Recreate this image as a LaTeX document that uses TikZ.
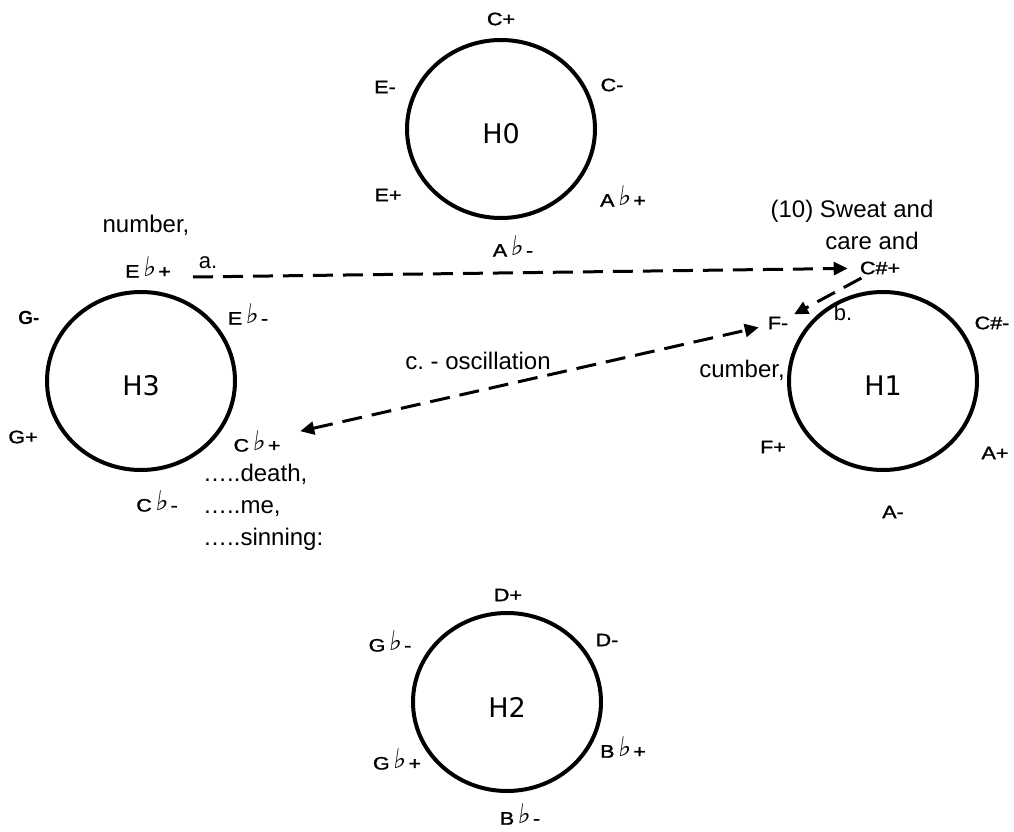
\documentclass[tikz,border=0pt]{standalone}
\usepackage{fontspec}
\setmainfont{Liberation Sans}
\newfontfamily\notefont{DejaVu Sans}
\newfontfamily\keyfont[FakeBold=1.4,FakeStretch=1.2]{Liberation Sans}
\newfontfamily\flatfont[FakeSlant=0.15]{DejaVu Sans}
\usetikzlibrary{arrows.meta,shapes.geometric}
% flat sign, enlarged and leaning, with air on both sides
\newcommand\fl{\hspace{3pt}\raisebox{1.5pt}{\flatfont\fontsize{27}{27}\selectfont ♭}\hspace{3pt}}
\frenchspacing
\begin{document}
\begin{tikzpicture}[x=1pt,y=-1pt,
  >={Triangle[length=14pt,width=13pt]},
  hub/.style={ellipse, draw=black, line width=4pt, minimum width=188pt,
    minimum height=178pt, inner sep=0pt},
  hubname/.style={font=\notefont\fontsize{27}{32}\selectfont, yshift=-5pt},
  key/.style={font=\keyfont\fontsize{18}{22}\selectfont, inner sep=3pt},
  boldkey/.style={font=\bfseries\fontsize{19}{22}\selectfont, inner sep=3pt},
  words/.style={font=\fontsize{24}{32}\selectfont, inner sep=2pt},
  link/.style={draw=black, line width=3pt, dash pattern=on 20pt off 10pt},
]
\useasboundingbox (0,0) rectangle (1014,832);

% the four hexatonic cycles
\node[hub, label={[hubname]center:H0}] (h0) at (501,129) {};
\node[hub, label={[hubname]center:H3}] (h3) at (141,381) {};
\node[hub, label={[hubname]center:H1}] (h1) at (883,381) {};
\node[hub, label={[hubname]center:H2}] (h2) at (507,702) {};

% H0 triads
\node[key] (cp)  at (501,19)  {C+};
\node[key] (cm)  at (612,85)  {C-};
\node[key] (em)  at (385,87)  {E-};
\node[key] (ep)  at (388,195) {E+};
\node[key] (abp) at (623,196) {A\fl+};
\node[key] (abm) at (513,246) {A\fl-};

% H3 triads
\node[key] (ebp) at (148,267) {E\fl+};
\node[key] (ebm) at (248,314) {E\fl-};
\node[boldkey] (gm) at (29,318) {G-};
\node[key] (gp)  at (23,437)  {G+};
\node[key] (cbp) at (257,441) {C\fl+};
\node[key] (cbm) at (157,501) {C\fl-};

% H1 triads
\node[key] (csp) at (880,268) {C\#+};
\node[key] (fm)  at (778,323) {F-};
\node[key] (csm) at (992,323) {C\#-};
\node[key] (fp)  at (773,447) {F+};
\node[key] (ap)  at (995,453) {A+};
\node[key] (am)  at (893,512) {A-};

% H2 triads
\node[key] (dp)  at (508,595) {D+};
\node[key] (dm)  at (607,640) {D-};
\node[key] (gbm) at (390,641) {G\fl-};
\node[key] (bbp) at (623,747) {B\fl+};
\node[key] (gbp) at (397,759) {G\fl+};
\node[key] (bbm) at (520,814) {B\fl-};

% verse fragments
\node[words] (number) at (146,225) {number,};
\node[words, font=\fontsize{22}{26}\selectfont] (la) at (208,263) {a.};
\node[words] (sweat) at (852,211) {(10) Sweat and};
\node[words] (care)  at (872,241) {care and};
\node[words, font=\fontsize{22}{26}\selectfont] (lb) at (843,313) {b.};
\node[words] (cumber) at (742,370) {cumber,};
\node[words] (osc) at (478,361) {c. - oscillation};
\node[words, align=left, anchor=north west] (death) at (201,462)
  {…..death,\\…..me,\\…..sinning:};

% transformations between the cycles
\coordinate (a-tail) at (193,277);
\draw[link,->,shorten >=9pt] (a-tail) -- (csp);
\draw[link,->,shorten <=1pt,shorten >=3pt] (csp) -- (fm);
\draw[link,<->,shorten <=17pt,shorten >=6pt] (cbp) -- (fm);
\end{tikzpicture}
\end{document}
